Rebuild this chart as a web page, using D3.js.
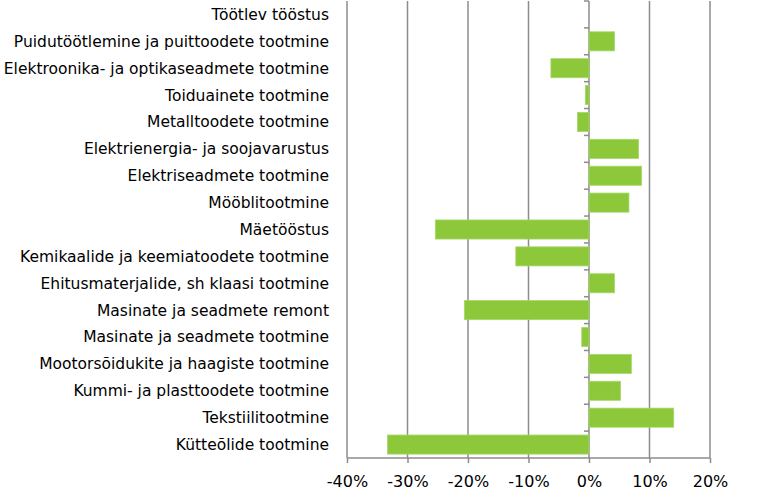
<!DOCTYPE html>
<html>
<head>
<meta charset="utf-8">
<script src="https://cdn.jsdelivr.net/npm/d3@7"></script>
<style>
  body { margin: 0; background: #fff; }
  svg text { font-family: "DejaVu Sans", "Liberation Sans", sans-serif; fill: #000; }
</style>
</head>
<body>
<svg id="chart" width="768" height="499"></svg>
<script>
var categories = [
  'Töötlev tööstus',
  'Puidutöötlemine ja puittoodete tootmine',
  'Elektroonika- ja optikaseadmete tootmine',
  'Toiduainete tootmine',
  'Metalltoodete tootmine',
  'Elektrienergia- ja soojavarustus',
  'Elektriseadmete tootmine',
  'Mööblitootmine',
  'Mäetööstus',
  'Kemikaalide ja keemiatoodete tootmine',
  'Ehitusmaterjalide, sh klaasi tootmine',
  'Masinate ja seadmete remont',
  'Masinate ja seadmete tootmine',
  'Mootorsõidukite ja haagiste tootmine',
  'Kummi- ja plasttoodete tootmine',
  'Tekstiilitootmine',
  'Kütteõlide tootmine'
];
var values = [0, 4.2, -6.3, -0.6, -1.9, 8.2, 8.7, 6.6, -25.4, -12.1, 4.2, -20.6, -1.2, 7.0, 5.2, 14.0, -33.3];
var xTicks = [-40, -30, -20, -10, 0, 10, 20];

var chart = {
  margin: { top: 1, right: 58, bottom: 41, left: 347 },
  init: function() {
    var self = this;
    self.svg = d3.select('#chart');
    self.width = 768 - self.margin.left - self.margin.right;
    self.height = 499 - self.margin.top - self.margin.bottom;

    self.x = d3.scaleLinear().domain([-40, 20]).range([0, self.width]);
    self.y = d3.scaleBand().domain(categories).range([0, self.height]).paddingInner(0.29).paddingOuter(0.145);

    self.g = self.svg.append('g')
      .attr('transform', 'translate(' + self.margin.left + ',' + self.margin.top + ')');

    self.drawGrid();
    self.drawBars();
    self.drawAxes();
  },

  drawGrid: function() {
    var self = this;
    self.g.selectAll('.grid')
      .data(xTicks)
      .enter().append('line')
      .attr('x1', function(d) { return self.x(d); })
      .attr('x2', function(d) { return self.x(d); })
      .attr('y1', 0)
      .attr('y2', self.height)
      .attr('stroke', '#8c8c8c')
      .attr('stroke-width', 1.5);
  },

  drawBars: function() {
    var self = this;
    self.g.selectAll('.bar')
      .data(values)
      .enter().append('rect')
      .attr('x', function(d) { return self.x(Math.min(0, d)); })
      .attr('y', function(d, i) { return self.y(categories[i]); })
      .attr('width', function(d) { return Math.abs(self.x(d) - self.x(0)); })
      .attr('height', self.y.bandwidth())
      .attr('fill', '#8cc83a')
      .attr('stroke', '#a6d86a')
      .attr('stroke-width', 0.8);
  },

  drawAxes: function() {
    var self = this;
    var xAxis = self.g.append('g')
      .attr('transform', 'translate(0,' + self.height + ')')
      .call(d3.axisBottom(self.x).tickValues(xTicks).tickSize(5).tickPadding(13)
        .tickFormat(function(d) { return d + '%'; }));
    xAxis.selectAll('line, path').attr('stroke', '#8c8c8c').attr('stroke-width', 1.5);
    xAxis.select('.domain').attr('d', 'M0,0H' + self.width);
    xAxis.selectAll('text').style('font-size', '16px');

    // category ticks on the zero line
    var step = self.y.step();
    var catTicks = d3.range(categories.length).map(function(i) { return i * step; });
    self.g.selectAll('.ctick')
      .data(catTicks)
      .enter().append('line')
      .attr('x1', self.x(0) - 5)
      .attr('x2', self.x(0))
      .attr('y1', function(d) { return d; })
      .attr('y2', function(d) { return d; })
      .attr('stroke', '#8c8c8c')
      .attr('stroke-width', 1.5);

    self.svg.append('g').selectAll('text')
      .data(categories)
      .enter().append('text')
      .attr('x', 329)
      .attr('y', function(d) { return self.margin.top + self.y(d) + self.y.bandwidth() / 2; })
      .attr('dy', '0.35em')
      .attr('text-anchor', 'end')
      .style('font-size', '15.5px')
      .text(function(d) { return d; });
  }
};

chart.init();
</script>
</body>
</html>
